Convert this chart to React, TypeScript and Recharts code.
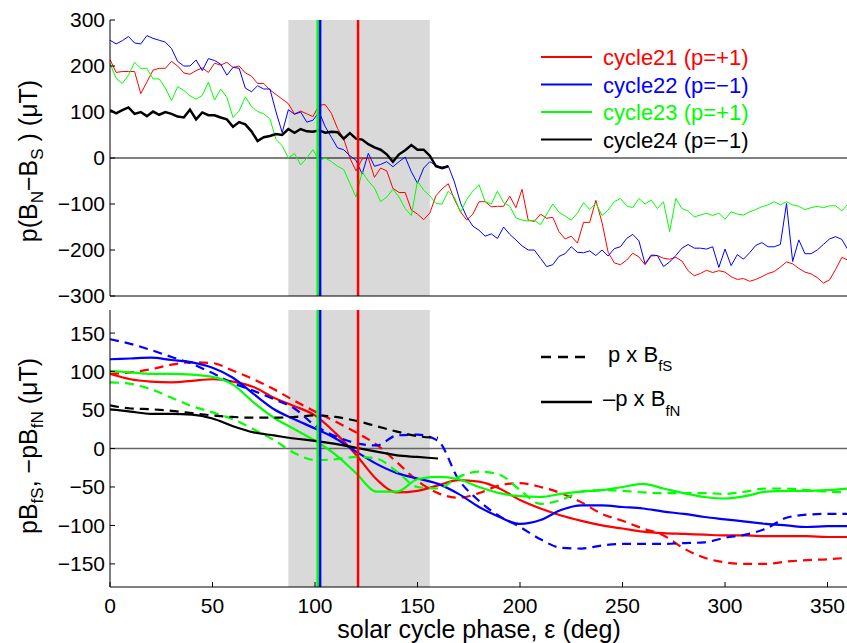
import { LineChart, Line, XAxis, YAxis, ReferenceLine, ReferenceArea } from "recharts";

const FONT = "'Liberation Sans', Arial, Helvetica, sans-serif";
const RED = "#ff0000";
const BLUE = "#0000ff";
const GREEN = "#00ff00";
const BLACK = "#000000";

// top panel: p(BN - BS), sampled every 3 deg of phase
const topPhase = [
  0, 3, 6, 9, 12, 15, 18, 21, 24, 27,
  30, 33, 36, 39, 42, 45, 48, 51, 54, 57,
  60, 63, 66, 69, 72, 75, 78, 81, 84, 87,
  90, 93, 96, 99, 102, 105, 108, 111, 114, 117,
  120, 123, 126, 129, 132, 135, 138, 141, 144, 147,
  150, 153, 156, 159, 162, 165, 168, 171, 174, 177,
  180, 183, 186, 189, 192, 195, 198, 201, 204, 207,
  210, 213, 216, 219, 222, 225, 228, 231, 234, 237,
  240, 243, 246, 249, 252, 255, 258, 261, 264, 267,
  270, 273, 276, 279, 282, 285, 288, 291, 294, 297,
  300, 303, 306, 309, 312, 315, 318, 321, 324, 327,
  330, 333, 336, 339, 342, 345, 348, 351, 354, 357,
  360,
];

const top21 = [
  214, 186, 188, 188, 188, 140, 165, 191, 195, 195,
  210, 200, 185, 182, 190, 196, 186, 206, 202, 208,
  197, 200, 185, 178, 162, 162, 148, 138, 128, 118,
  96, 102, 96, 90, 115, 116, 97, 64, 42, 0,
  -28, -2, 0, -42, -22, -28, -66, -75, -75, -113,
  -122, -134, -120, -82, -67, -56, -90, -117, -135, -122,
  -95, -95, -106, -105, -105, -83, -108, -68, -135, -138,
  -122, -131, -129, -160, -176, -170, -185, -140, -140, -92,
  -140, -205, -228, -232, -222, -207, -215, -232, -213, -212,
  -218, -220, -216, -224, -245, -256, -251, -244, -249, -245,
  -248, -258, -264, -262, -268, -264, -258, -251, -247, -237,
  -226, -230, -240, -248, -252, -260, -272, -265, -242, -216,
  -222,
];

const top22 = [
  256, 248, 255, 264, 250, 248, 266, 260, 256, 252,
  238, 210, 200, 200, 213, 190, 216, 212, 204, 180,
  197, 195, 152, 144, 157, 150, 150, 100, 55, 105,
  95, 100, 78, 82, 100, 68, 45, 22, 18, 5,
  -5, -35, 10, -18, -14, -8, -19, -8, 2, -30,
  -55, -22, -8, -16, -20, -17, -52, -98, -128, -148,
  -157, -170, -165, -175, -150, -166, -178, -191, -200, -200,
  -218, -236, -232, -214, -208, -193, -205, -206, -202, -212,
  -200, -213, -197, -193, -175, -166, -180, -230, -211, -212,
  -236, -226, -212, -196, -188, -196, -196, -198, -193, -238,
  -198, -234, -210, -220, -206, -190, -184, -193, -193, -188,
  -99, -225, -178, -208, -208, -200, -188, -176, -171, -177,
  -200,
];

const top23 = [
  206, 173, 162, 180, 208, 195, 195, 172, 172, 152,
  125, 155, 147, 135, 128, 136, 165, 126, 150, 132,
  88, 102, 133, 112, 101, 96, 85, 40, 27, 0,
  10, -15, 0, 18, -6, 0, -8, -18, -25, -55,
  -85, -30, -50, -65, -95, -85, -68, -85, -110, -125,
  -50, -70, -82, -99, -100, -72, -85, -118, -90, -72,
  -58, -95, -100, -72, -97, -105, -130, -135, -137, -135,
  -145, -122, -100, -118, -126, -135, -120, -97, -112, -98,
  -125, -113, -95, -88, -104, -108, -88, -100, -91, -110,
  -95, -160, -88, -110, -115, -128, -124, -120, -125, -120,
  -133, -117, -122, -124, -117, -112, -106, -102, -95, -102,
  -95, -102, -105, -112, -108, -105, -108, -104, -104, -115,
  -100,
];

// cycle 24 only runs to ~165 deg
const top24 = [
  104, 97, 104, 110, 96, 100, 91, 101, 94, 100,
  96, 90, 88, 105, 84, 99, 93, 93, 88, 84,
  68, 78, 73, 58, 37, 45, 48, 52, 50, 63,
  55, 63, 58, 57, 60, 55, 57, 56, 42, 54,
  42, 40, 30, 23, 18, 8, -8, 8, 17, 28,
  18, 18, 5, -18, -22, -18,
];

// bottom panel: smoothed polar fields, every 10 deg
const bottomPhase = [
  0, 10, 20, 30, 40, 50, 60, 70, 80, 90,
  100, 110, 120, 130, 140, 150, 160, 170, 180, 190,
  200, 210, 220, 230, 240, 250, 260, 270, 280, 290,
  300, 310, 320, 330, 340, 350, 360,
];

const north21 = [97, 90, 87, 86, 88, 90, 87, 80, 66, 55, 43, 20, -8, -40, -57, -55, -48, -41, -43, -52, -67, -78, -87, -94, -100, -104, -108, -110, -111, -112, -113, -113, -114, -114, -114, -115, -115];
const south21 = [97, 99, 103, 109, 112, 111, 101, 90, 77, 62, 48, 35, 21, 5, -18, -42, -58, -64, -58, -48, -45, -50, -58, -70, -85, -94, -104, -113, -130, -142, -148, -150, -150, -147, -145, -144, -142];
const north22 = [116, 117, 118, 115, 112, 105, 92, 71, 51, 38, 26, 13, -4, -20, -32, -39, -46, -59, -76, -89, -98, -93, -80, -74, -74, -76, -78, -82, -85, -89, -92, -95, -98, -100, -102, -101, -101];
const south22 = [142, 136, 128, 119, 110, 98, 85, 75, 64, 52, 30, 16, 7, 4, 17, 18, 10, -40, -68, -88, -102, -118, -129, -130, -126, -124, -124, -124, -123, -122, -116, -112, -104, -90, -86, -85, -85];
const north23 = [101, 99, 97, 97, 96, 93, 83, 60, 40, 25, 10, -8, -32, -56, -56, -40, -37, -40, -50, -58, -62, -63, -59, -56, -54, -50, -46, -52, -58, -63, -65, -62, -56, -55, -55, -54, -52];
const south23 = [86, 84, 77, 66, 55, 47, 38, 25, 11, -6, -15, -14, -11, -13, -30, -50, -52, -37, -30, -34, -54, -72, -67, -56, -54, -55, -57, -58, -58, -58, -59, -56, -52, -52, -54, -56, -57];
const north24 = [51, 48, 45, 45, 44, 39, 29, 21, 17, 13, 10, 6, 1, -4, -9, -11, -13];
const south24 = [56, 52, 51, 49, 46, 43, 41, 40, 40, 41, 43, 41, 36, 29, 22, 16, 14];

// shaded band and polarity reversal phases (cycle23, cycle22, cycle21)
const bandPhase = [87, 156];
const reversalPhase = [101.3, 102.5, 121];
const reversalColors = [GREEN, BLUE, RED];

const xTicks = [0, 50, 100, 150, 200, 250, 300, 350];
const topTicks = [-300, -200, -100, 0, 100, 200, 300];
const bottomTicks = [-150, -100, -50, 0, 50, 100, 150];

const legendNames = ["cycle21 (p=+1)", "cycle22 (p=\u22121)", "cycle23 (p=+1)", "cycle24 (p=\u22121)"];
const legendColors = [RED, BLUE, GREEN, BLACK];

const topData = topPhase.map((x, i) => ({
  x,
  c21: top21[i],
  c22: top22[i],
  c23: top23[i],
  c24: i < top24.length ? top24[i] : null,
}));

const bottomData = bottomPhase.map((x, i) => ({
  x,
  n21: north21[i],
  s21: south21[i],
  n22: north22[i],
  s22: south22[i],
  n23: north23[i],
  s23: south23[i],
  n24: i < north24.length ? north24[i] : null,
  s24: i < south24.length ? south24[i] : null,
}));

const fmt = (v: number) => (v < 0 ? "\u2212" + Math.abs(v) : String(v));
const tickStyle = { fill: "#000", fontSize: 21, fontFamily: FONT };

function Frame(yDomain: number[], yTicks: number[], bottomHeight: number, showX: boolean) {
  return [
    <XAxis
      key="xb"
      dataKey="x"
      type="number"
      domain={[0, 360]}
      ticks={xTicks}
      interval={0}
      tick={showX ? tickStyle : false}
      tickSize={-5}
      tickMargin={16}
      height={bottomHeight}
      stroke="#000"
      allowDataOverflow
    />,
    <XAxis
      key="xt"
      xAxisId="top"
      orientation="top"
      dataKey="x"
      type="number"
      domain={[0, 360]}
      ticks={xTicks}
      interval={0}
      tick={false}
      tickSize={-5}
      height={0}
      stroke="#000"
      allowDataOverflow
    />,
    <YAxis
      key="yl"
      type="number"
      domain={yDomain}
      ticks={yTicks}
      interval={0}
      tickFormatter={fmt}
      tick={tickStyle}
      tickSize={-5}
      tickMargin={10}
      width={110}
      stroke="#000"
      allowDataOverflow
    />,
    <YAxis
      key="yr"
      yAxisId="right"
      orientation="right"
      type="number"
      domain={yDomain}
      ticks={yTicks}
      interval={0}
      tick={false}
      tickSize={-5}
      width={2}
      stroke="#000"
      allowDataOverflow
    />,
  ];
}

function TopPanel() {
  // extra bottom margin so the lowest tick label is not clipped
  return (
    <LineChart width={850} height={312} data={topData} margin={{ top: 20, right: 0, bottom: 12, left: 0 }}>
      {Frame([-300, 300], topTicks, 4, false)}
      <ReferenceArea x1={bandPhase[0]} x2={bandPhase[1]} fill="#d9d9d9" fillOpacity={1} stroke="none" />
      <ReferenceLine y={0} stroke="#000" strokeWidth={1} />
      <Line dataKey="c21" stroke={RED} strokeWidth={1} dot={false} isAnimationActive={false} />
      <Line dataKey="c22" stroke={BLUE} strokeWidth={1} dot={false} isAnimationActive={false} />
      <Line dataKey="c23" stroke={GREEN} strokeWidth={1} dot={false} isAnimationActive={false} />
      <Line dataKey="c24" stroke={BLACK} strokeWidth={2.5} dot={false} isAnimationActive={false} />
      {reversalPhase.map((p, i) => (
        <ReferenceLine key={i} x={p} stroke={reversalColors[i]} strokeWidth={2.5} />
      ))}
    </LineChart>
  );
}

function BottomPanel() {
  const dash = "9 6";
  return (
    <LineChart width={850} height={343} data={bottomData} margin={{ top: 10, right: 0, bottom: 0, left: 0 }}>
      {Frame([-180, 180], bottomTicks, 56, true)}
      <ReferenceArea x1={bandPhase[0]} x2={bandPhase[1]} fill="#d9d9d9" fillOpacity={1} stroke="none" />
      <ReferenceLine y={0} stroke="#666" strokeWidth={1.5} />
      <Line type="monotone" dataKey="s21" stroke={RED} strokeWidth={2.2} strokeDasharray={dash} dot={false} isAnimationActive={false} />
      <Line type="monotone" dataKey="n21" stroke={RED} strokeWidth={2.2} dot={false} isAnimationActive={false} />
      <Line type="monotone" dataKey="s22" stroke={BLUE} strokeWidth={2.2} strokeDasharray={dash} dot={false} isAnimationActive={false} />
      <Line type="monotone" dataKey="n22" stroke={BLUE} strokeWidth={2.2} dot={false} isAnimationActive={false} />
      <Line type="monotone" dataKey="s23" stroke={GREEN} strokeWidth={2.2} strokeDasharray={dash} dot={false} isAnimationActive={false} />
      <Line type="monotone" dataKey="n23" stroke={GREEN} strokeWidth={2.2} dot={false} isAnimationActive={false} />
      <Line type="monotone" dataKey="s24" stroke={BLACK} strokeWidth={2.2} strokeDasharray={dash} dot={false} isAnimationActive={false} />
      <Line type="monotone" dataKey="n24" stroke={BLACK} strokeWidth={2.2} dot={false} isAnimationActive={false} />
      {reversalPhase.map((p, i) => (
        <ReferenceLine key={i} x={p} stroke={reversalColors[i]} strokeWidth={2.5} />
      ))}
    </LineChart>
  );
}

function Labels() {
  return (
    <svg
      width={847}
      height={643}
      style={{ position: "absolute", left: 0, top: 0, pointerEvents: "none" }}
      fontFamily={FONT}
    >
      {legendNames.map((name, i) => {
        const y = 57 + i * 27.5;
        return (
          <g key={name}>
            <line x1={541} x2={592} y1={y} y2={y} stroke={legendColors[i]} strokeWidth={2} />
            <text x={603} y={y + 8} fontSize={22} fill={legendColors[i]}>
              {name}
            </text>
          </g>
        );
      })}

      <line x1={541} x2={591} y1={357} y2={357} stroke="#000" strokeWidth={2.5} strokeDasharray="10 7" />
      <text x={608} y={362} fontSize={22}>
        p x B<tspan fontSize={15} dy={9}>fS</tspan>
      </text>
      <line x1={541} x2={592} y1={402} y2={402} stroke="#000" strokeWidth={2.5} />
      <text x={603} y={406} fontSize={22}>
        {"\u2013p x B"}
        <tspan fontSize={15} dy={10}>fN</tspan>
      </text>

      <text transform="translate(37,161) rotate(-90)" textAnchor="middle" fontSize={25}>
        p(B<tspan fontSize={17} dy={6}>N</tspan>
        <tspan dy={-6}>{"\u2212B"}</tspan>
        <tspan fontSize={17} dy={6}>S</tspan>
        <tspan dy={-6}>{" ) (\u03bcT)"}</tspan>
      </text>

      <text transform="translate(37,446) rotate(-90)" textAnchor="middle" fontSize={25}>
        pB<tspan fontSize={17} dy={6}>fS</tspan>
        <tspan dy={-6}>{", \u2212pB"}</tspan>
        <tspan fontSize={17} dy={6}>fN</tspan>
        <tspan dy={-6}>{" (\u03bcT)"}</tspan>
      </text>

      <text x={479} y={638} textAnchor="middle" fontSize={25}>
        {"solar cycle phase, \u03b5 (deg)"}
      </text>
    </svg>
  );
}

export default function App() {
  return (
    <div
      style={{
        position: "absolute",
        left: 0,
        top: 0,
        width: 847,
        height: 643,
        overflow: "hidden",
        background: "#fff",
        fontFamily: FONT,
      }}
    >
      <div style={{ position: "absolute", left: 0, top: 300 }}>
        <BottomPanel />
      </div>
      <div style={{ position: "absolute", left: 0, top: 0 }}>
        <TopPanel />
      </div>
      <Labels />
    </div>
  );
}
